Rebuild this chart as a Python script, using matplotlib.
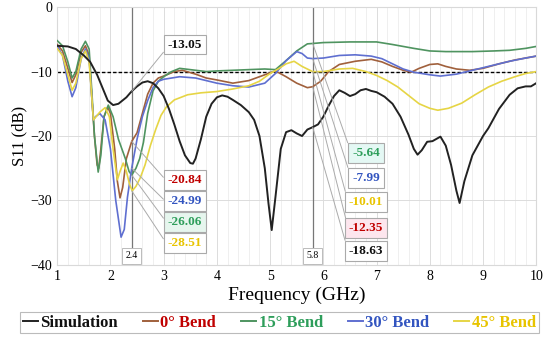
import numpy as np
import matplotlib
matplotlib.use('Agg')
import matplotlib.pyplot as plt
from matplotlib.lines import Line2D

plt.rcParams['font.family'] = ['Liberation Serif', 'DejaVu Serif']

# Simulation
sim_f = [1.0, 1.2, 1.35, 1.5, 1.62, 1.75, 1.85, 1.95, 2.05, 2.15, 2.3, 2.4, 2.5, 2.6, 2.7, 2.8,
         2.9, 3.0, 3.1, 3.2, 3.3, 3.4, 3.5, 3.55, 3.6, 3.7, 3.8, 3.9, 4.0, 4.1, 4.2, 4.3, 4.45,
         4.6, 4.7, 4.8, 4.9, 4.97, 5.03, 5.1, 5.2, 5.3, 5.4, 5.5, 5.6, 5.7, 5.8, 5.9, 6.0, 6.1,
         6.2, 6.3, 6.4, 6.5, 6.6, 6.7, 6.8, 6.9, 7.0, 7.15, 7.3, 7.45, 7.6, 7.7, 7.77, 7.85,
         7.95, 8.05, 8.2, 8.3, 8.4, 8.5, 8.56, 8.65, 8.8, 9.0, 9.1, 9.3, 9.5, 9.65, 9.8, 9.9, 10.0]
sim_s = [-6.0, -6.1, -6.5, -7.5, -8.5, -10.5, -12.5, -14.5, -15.2, -15.0, -14.0, -13.05, -12.3,
         -11.7, -11.5, -11.8, -12.6, -13.8, -15.8, -18.2, -20.8, -23.0, -24.2, -24.3, -23.5,
         -20.5, -17.0, -15.0, -14.0, -13.7, -13.9, -14.4, -15.2, -16.3, -17.5, -20.0, -25.0,
         -30.5, -34.6, -29.5, -22.0, -19.4, -19.1, -19.6, -20.0, -19.0, -18.63, -18.2, -17.0,
         -15.3, -13.8, -12.9, -13.3, -13.8, -13.5, -12.9, -12.7, -13.0, -13.2, -13.9, -15.0,
         -17.0, -19.8, -22.0, -22.9, -22.2, -20.9, -20.8, -20.1, -21.5, -24.5, -28.5, -30.4,
         -27.0, -23.0, -20.0, -18.8, -15.8, -13.6, -12.6, -12.3, -12.3, -11.8]

# 0 deg bend
b0_f = [1.0, 1.1, 1.2, 1.28, 1.35, 1.45, 1.53, 1.6, 1.65, 1.7, 1.75, 1.78, 1.82, 1.88, 1.95,
        2.0, 2.08, 2.13, 2.18, 2.23, 2.3, 2.4, 2.5, 2.6, 2.7, 2.8, 2.9, 3.0, 3.2, 3.35, 3.6,
        3.8, 4.0, 4.3, 4.6, 4.9, 5.1, 5.3, 5.5, 5.7, 5.8, 5.95, 6.1, 6.3, 6.6, 6.9, 7.1, 7.3,
        7.5, 7.65, 7.8, 8.0, 8.15, 8.3, 8.5, 8.75, 9.0, 9.3, 9.6, 10.0]
b0_s = [-5.8, -6.8, -9.5, -11.7, -10.5, -7.0, -6.0, -7.5, -14.0, -20.0, -24.5, -25.0, -22.0,
        -17.0, -15.5, -16.5, -22.0, -27.0, -29.6, -28.0, -23.5, -20.84, -19.5, -16.5, -13.5,
        -11.8, -11.0, -10.7, -10.0, -9.8, -10.4, -11.0, -11.3, -11.8, -11.4, -10.5, -9.9,
        -10.8, -11.8, -12.5, -12.35, -11.5, -10.0, -8.9, -8.4, -8.1, -8.5, -9.2, -9.8, -10.1,
        -9.5, -8.9, -8.8, -9.2, -9.6, -9.8, -9.5, -8.8, -8.2, -7.6]

# 15 deg bend
b15_f = [1.0, 1.1, 1.2, 1.28, 1.35, 1.45, 1.53, 1.6, 1.65, 1.7, 1.77, 1.82, 1.88, 1.96, 2.05,
         2.15, 2.28, 2.35, 2.4, 2.48, 2.55, 2.62, 2.7, 2.8, 2.9, 3.0, 3.15, 3.3, 3.5, 3.8, 4.0,
         4.3, 4.6, 4.9, 5.1, 5.3, 5.5, 5.7, 5.8, 6.0, 6.5, 7.0, 7.3, 7.7, 8.0, 8.3, 8.8, 9.2,
         9.5, 9.8, 10.0]
b15_s = [-5.2, -6.0, -8.5, -11.0, -10.0, -6.5, -5.3, -6.5, -13.0, -20.0, -25.6, -23.0, -17.0,
         -15.2, -17.0, -20.5, -23.5, -25.5, -26.06, -25.0, -23.5, -21.0, -16.5, -13.0, -11.5,
         -10.8, -10.0, -9.5, -9.7, -10.0, -9.9, -9.8, -9.7, -9.6, -9.7, -8.3, -6.8, -5.7,
         -5.64, -5.5, -5.4, -5.4, -5.8, -6.4, -6.8, -6.9, -6.9, -6.8, -6.7, -6.4, -6.1]

# 30 deg bend
b30_f = [1.0, 1.1, 1.2, 1.28, 1.35, 1.45, 1.53, 1.6, 1.65, 1.68, 1.72, 1.8, 1.9, 2.0, 2.1, 2.2,
         2.26, 2.32, 2.4, 2.5, 2.6, 2.7, 2.8, 2.9, 3.0, 3.3, 3.6, 4.0, 4.3, 4.6, 4.9, 5.1, 5.3,
         5.5, 5.6, 5.7, 5.8, 6.0, 6.3, 6.6, 6.9, 7.1, 7.3, 7.5, 7.7, 8.0, 8.2, 8.5, 8.9, 9.2,
         9.5, 9.8, 10.0]
b30_s = [-6.0, -7.5, -11.5, -13.9, -12.5, -8.0, -6.5, -8.0, -14.0, -17.5, -17.0, -16.5, -17.5,
         -22.0, -30.0, -35.7, -34.5, -29.5, -24.99, -20.5, -17.0, -14.5, -12.5, -11.5, -11.2,
         -10.8, -11.0, -11.8, -12.2, -12.4, -11.8, -10.3, -8.3, -6.9, -7.2, -7.9, -7.99, -7.9,
         -7.5, -7.4, -7.6, -8.0, -8.8, -9.6, -10.1, -10.5, -10.7, -10.4, -9.6, -9.0, -8.4,
         -7.9, -7.6]

# 45 deg bend
b45_f = [1.0, 1.1, 1.2, 1.28, 1.35, 1.45, 1.53, 1.6, 1.65, 1.68, 1.73, 1.8, 1.9, 1.98, 2.05,
         2.13, 2.18, 2.24, 2.3, 2.36, 2.41, 2.48, 2.56, 2.65, 2.75, 2.85, 2.95, 3.05, 3.2, 3.45,
         3.7, 4.0, 4.3, 4.6, 4.8, 5.0, 5.15, 5.3, 5.45, 5.6, 5.8, 6.0, 6.3, 6.55, 6.8, 7.0, 7.2,
         7.4, 7.6, 7.8, 8.0, 8.15, 8.35, 8.6, 8.85, 9.1, 9.35, 9.6, 9.8, 10.0]
b45_s = [-6.4, -7.5, -10.5, -12.9, -11.8, -8.0, -6.8, -8.5, -14.0, -17.5, -17.0, -16.3, -15.6,
         -17.0, -22.0, -26.8, -25.5, -24.2, -25.5, -27.5, -28.51, -27.8, -26.5, -24.5, -21.5,
         -19.0, -16.8, -15.5, -14.4, -13.6, -13.3, -13.1, -12.7, -12.2, -11.5, -10.3, -9.6,
         -8.8, -8.4, -9.2, -10.01, -10.0, -9.6, -9.5, -10.0, -10.6, -11.4, -12.4, -13.7, -15.0,
         -15.7, -16.0, -15.7, -14.9, -13.6, -12.4, -11.5, -10.8, -10.3, -10.0]

names = ['Simulation', '0° Bend', '15° Bend', '30° Bend', '45° Bend']
line_colors = ['#222222', '#a0603c', '#4f9460', '#5f6fd0', '#e6d545']
text_colors = ['#111111', '#c00000', '#2e9e5b', '#3355c0', '#e8c400']

# markers at 2.4 and 5.8 GHz
left_vals = [-20.84, -24.99, -26.06, -28.51]
left_cols = ['#c00000', '#3355c0', '#2e9e5b', '#e8c400']
left_bg = ['white', 'white', '#e6f6ee', 'white']
left_y = [-26.8, -30.1, -33.3, -36.6]
right_vals = [-5.64, -7.99, -10.01, -12.35, -18.63]
right_cols = ['#2e9e5b', '#3355c0', '#e8c400', '#c00000', '#111111']
right_bg = ['#e4f8f4', 'white', 'white', '#fde6ee', 'white']
right_y = [-22.6, -26.5, -30.2, -34.3, -37.8]

fig = plt.figure(figsize=(5.5, 3.4), dpi=100)
ax = fig.add_axes([0.104, 0.221, 0.871, 0.758])

ax.set_xlim(1, 10)
ax.set_ylim(-40, 0)
ax.set_xticks(range(1, 11))
ax.set_yticks([0, -10, -20, -30, -40])
ax.set_xticks(np.arange(1, 10.01, 0.2), minor=True)
ax.grid(True, which='major', color='#dcdcdc', lw=0.7)
ax.grid(True, which='minor', axis='x', color='#ececec', lw=0.6)
ax.tick_params(which='both', length=0, labelsize=10)
for sp in ax.spines.values():
    sp.set_color('#d9d9d9')
    sp.set_linewidth(0.8)

ax.axhline(-10, color='black', ls=(0, (2.5, 1.5)), lw=1.0, zorder=2)
for fx, lab in [(2.4, '2.4'), (5.8, '5.8')]:
    ax.axvline(fx, color='#777777', lw=0.9, zorder=2)
    ax.text(fx, -38.6, lab, ha='center', va='center', fontsize=7,
            bbox=dict(boxstyle='square,pad=0.35', fc='white', ec='#bbbbbb', lw=0.7), zorder=5)

series = [(sim_f, sim_s), (b0_f, b0_s), (b15_f, b15_s), (b30_f, b30_s), (b45_f, b45_s)]
order = [1, 2, 3, 4, 0]
for i in order:
    f, s = series[i]
    ax.plot(f, s, color=line_colors[i], lw=1.4 if i == 0 else 1.2, zorder=3 + (i == 0))

arrow = dict(arrowstyle='-', color='#aaaaaa', lw=0.7, relpos=(0, 0.3), shrinkA=0, shrinkB=0)
ax.annotate('-13.05', xy=(2.4, -13.05), xytext=(3.4, -5.8), ha='center', va='center',
            fontsize=9.5, fontweight='bold', color='#111111', arrowprops=arrow,
            bbox=dict(boxstyle='square,pad=0.3', fc='white', ec='#aaaaaa', lw=0.8), zorder=6)
for v, c, bg, ty in zip(left_vals, left_cols, left_bg, left_y):
    ax.annotate(f'{v:.2f}', xy=(2.4, v), xytext=(3.4, ty), ha='center', va='center',
                fontsize=9.5, fontweight='bold', color=c, arrowprops=arrow,
                bbox=dict(boxstyle='square,pad=0.3', fc=bg, ec='#aaaaaa', lw=0.8), zorder=6)
for v, c, bg, ty in zip(right_vals, right_cols, right_bg, right_y):
    ax.annotate(f'{v:.2f}', xy=(5.8, v), xytext=(6.8, ty), ha='center', va='center',
                fontsize=9.5, fontweight='bold', color=c, arrowprops=arrow,
                bbox=dict(boxstyle='square,pad=0.3', fc=bg, ec='#aaaaaa', lw=0.8), zorder=6)

ax.set_xlabel('Frequency (GHz)', fontsize=14, labelpad=3)
ax.set_ylabel('S11 (dB)', fontsize=12, labelpad=2)

handles = [Line2D([0], [0], color=line_colors[i], lw=1.4) for i in range(5)]
leg = fig.legend(handles, names, loc='lower center', bbox_to_anchor=(0.508, -0.004), ncol=5,
                 frameon=True, fancybox=False, edgecolor='#aaaaaa', handlelength=0.9,
                 handletextpad=0.15, columnspacing=1.5, borderpad=0.15,
                 prop={'weight': 'bold', 'size': 12})
leg.get_frame().set_linewidth(0.8)
for t, c in zip(leg.get_texts(), text_colors):
    t.set_color(c)

fig.savefig('out.png', dpi=100)
